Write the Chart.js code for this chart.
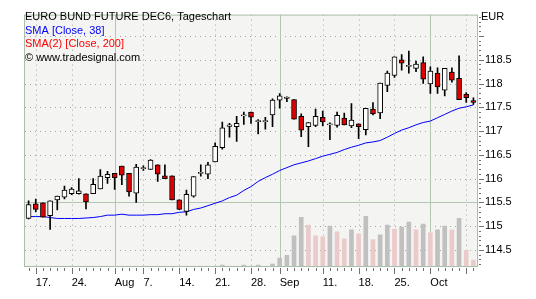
<!DOCTYPE html>
<html>
<head>
<meta charset="utf-8">
<script src="https://cdn.jsdelivr.net/npm/chart.js@4.4.0/dist/chart.umd.min.js"></script>
<style>
  html, body { margin: 0; padding: 0; background: #fff; }
</style>
</head>
<body>
<canvas id="myChart" width="536" height="299"></canvas>
<script>
// trading days, Jul 14 - Oct 10 2006
var days = ['14.07','17.07','18.07','19.07','20.07','21.07','24.07','25.07','26.07','27.07','28.07','31.07',
  '01.08','02.08','03.08','04.08','07.08','08.08','09.08','10.08','11.08','14.08','15.08','16.08','17.08','18.08',
  '21.08','22.08','23.08','24.08','25.08','28.08','29.08','30.08','31.08',
  '01.09','04.09','05.09','06.09','07.09','08.09','11.09','12.09','13.09','14.09','15.09',
  '18.09','19.09','20.09','21.09','22.09','25.09','26.09','27.09','28.09','29.09',
  '02.10','03.10','04.10','05.10','06.10','09.10','10.10'];

var open = [115.16,115.47,115.49,115.22,115.55,115.61,115.68,115.68,115.68,115.68,115.78,116.02,116.11,116.26,116.11,115.69,
  116.22,116.19,116.29,116.06,116.06,115.55,115.31,115.63,116.12,116.09,116.35,116.65,117.11,117.09,117.33,117.40,
  117.21,117.21,117.34,117.65,117.70,117.66,117.31,117.09,117.12,117.29,117.14,117.12,117.27,117.11,117.15,117.03,
  117.46,117.38,117.96,118.17,118.50,118.37,118.32,118.44,117.99,118.22,117.86,118.24,118.11,117.77,117.64];
var high = [115.53,115.57,115.49,115.53,115.63,115.84,115.81,116.00,115.68,116.00,116.19,116.15,116.11,116.26,116.11,116.30,
  116.27,116.40,116.29,116.29,116.06,115.55,115.76,116.04,116.29,116.34,116.75,117.19,117.16,117.31,117.40,117.40,
  117.24,117.29,117.68,117.79,117.72,117.66,117.36,117.18,117.46,117.42,117.17,117.40,117.38,117.58,117.15,117.48,
  117.60,118.01,118.26,118.56,118.61,118.68,118.47,118.56,118.35,118.33,118.32,118.33,118.58,117.81,117.70];
var low = [115.15,115.30,115.19,114.93,115.34,115.57,115.66,115.67,115.36,115.68,115.78,115.90,115.77,115.87,115.63,115.50,
  116.17,116.19,115.94,116.00,115.55,115.35,115.23,115.61,116.05,116.00,116.35,116.62,116.87,116.78,117.14,117.16,
  116.94,117.04,117.09,117.48,117.62,117.25,116.88,116.67,117.09,117.11,116.82,117.08,117.13,117.07,116.84,116.92,
  117.34,117.26,117.83,118.13,118.28,118.22,118.25,118.00,117.79,117.79,117.74,118.03,117.66,117.60,117.56];
var close = [115.45,115.35,115.19,115.53,115.63,115.76,115.78,115.74,115.51,115.88,116.05,116.09,116.02,116.07,115.72,116.24,
  116.22,116.39,116.09,116.00,115.55,115.35,115.67,116.04,116.12,116.29,116.68,117.07,117.12,117.16,117.33,117.29,
  117.21,117.21,117.65,117.74,117.70,117.25,117.02,117.18,117.31,117.19,117.14,117.33,117.13,117.23,117.09,117.48,
  117.36,118.01,118.22,118.56,118.43,118.37,118.41,118.09,118.26,117.93,118.32,118.07,117.66,117.70,117.60];

// SMA [Close, 38]
var sma38 = [115.20,115.20,115.20,115.18,115.16,115.16,115.16,115.16,115.17,115.18,115.20,115.23,115.23,115.25,115.23,115.23,
  115.23,115.24,115.24,115.26,115.26,115.29,115.30,115.35,115.38,115.43,115.48,115.53,115.60,115.65,115.75,115.83,
  115.94,116.02,116.09,116.17,116.23,116.29,116.33,116.37,116.42,116.47,116.51,116.55,116.61,116.66,116.70,116.75,
  116.77,116.80,116.87,116.95,117.02,117.07,117.13,117.18,117.21,117.28,117.35,117.42,117.48,117.51,117.55];

// volume, thousand contracts
var volume = [0,0,0,0,0,0,0,0,0,0,0,0,0,0,0,0,0,0,0,0,0,0,0,0,0,0,0,20,0,0,20,0,20,0,40,160,220,620,1000,840,620,600,820,700,
  560,740,660,1020,540,640,840,760,800,900,740,860,680,740,820,740,980,320,120];

var tickDays = ['17.07','24.07','01.08','07.08','14.08','21.08','28.08','01.09','11.09','18.09','25.09','02.10','09.10'];
var tickText = ['17.','24.','Aug','7.','14.','21.','28.','Sep','11.','18.','25.','Oct',''];
var monthDays = ['01.08','01.09','02.10'];
var yLines = [114.5,115,115.5,116,116.5,117,117.5,118,118.5,119];

var FONT = '11px "Liberation Sans", Arial, sans-serif';
Chart.defaults.font.family = '"Liberation Sans", Arial, sans-serif';
Chart.defaults.font.size = 11;
Chart.defaults.color = '#000';

var bodies = [], wicks = [], bodyColors = [], volColors = [];
for (var i = 0; i < days.length; i++) {
  var lo = Math.min(open[i], close[i]), hi = Math.max(open[i], close[i]);
  if (hi - lo < 0.02) { lo -= 0.012; hi += 0.012; }
  bodies.push([lo, hi]);
  wicks.push([low[i], high[i]]);
  bodyColors.push(close[i] >= open[i] ? '#ffffff' : '#e00000');
  volColors.push(i > 0 && volume[i] > volume[i - 1] ? '#c0c0c0' : '#ebcaca');
}

var frame = {
  id: 'frame',
  beforeDraw: function (chart) {
    var a = chart.chartArea, ctx = chart.ctx;
    ctx.save();
    ctx.fillStyle = '#f4f5f2';
    ctx.fillRect(a.left, a.top, a.right - a.left, a.bottom - a.top);
    ctx.restore();
  },
  beforeDatasetsDraw: function (chart) {
    var a = chart.chartArea, ctx = chart.ctx, xs = chart.scales.x, ys = chart.scales.y;
    ctx.save();
    ctx.lineWidth = 1;
    yLines.forEach(function (v) {
      var y = Math.round(ys.getPixelForValue(v)) + 0.5;
      if (v === 115.5) { ctx.setLineDash([]); ctx.strokeStyle = '#b2c6b2'; }
      else { ctx.setLineDash([1, 4]); ctx.strokeStyle = '#a0a8a0'; }
      ctx.beginPath(); ctx.moveTo(a.left, y); ctx.lineTo(a.right, y); ctx.stroke();
    });
    tickDays.forEach(function (d) {
      var x = Math.round(xs.getPixelForValue(days.indexOf(d))) + 0.5;
      if (monthDays.indexOf(d) >= 0) { ctx.setLineDash([]); ctx.strokeStyle = '#b2c6b2'; }
      else { ctx.setLineDash([1, 4]); ctx.strokeStyle = '#a0a8a0'; }
      ctx.beginPath(); ctx.moveTo(x, a.top); ctx.lineTo(x, a.bottom); ctx.stroke();
    });
    ctx.setLineDash([]);
    ctx.strokeStyle = '#a9bfa9';
    ctx.strokeRect(a.left - 0.5, a.top + 0.5, a.right - a.left + 1, a.bottom - a.top);
    ctx.restore();
  },
  afterDraw: function (chart) {
    var a = chart.chartArea, ctx = chart.ctx, xs = chart.scales.x, ys = chart.scales.y;
    ctx.save();
    ctx.strokeStyle = '#707070';
    ctx.lineWidth = 1;
    // x ticks
    for (var i = 0; i < days.length; i++) {
      var x = Math.round(xs.getPixelForValue(i)) + 0.5;
      var big = tickDays.indexOf(days[i]) >= 0;
      ctx.beginPath(); ctx.moveTo(x, a.bottom + 2); ctx.lineTo(x, a.bottom + (big ? 8 : 5)); ctx.stroke();
    }
    // y ticks
    for (var v = 1142; v <= 1194; v++) {
      var y = Math.round(ys.getPixelForValue(v / 10)) + 0.5;
      var major = v % 5 === 0;
      ctx.beginPath(); ctx.moveTo(a.right + 2, y); ctx.lineTo(a.right + (major ? 7 : 4), y); ctx.stroke();
    }
    ctx.font = FONT;
    ctx.textBaseline = 'middle';
    ctx.textAlign = 'left';
    ctx.fillStyle = '#000';
    ctx.fillText('EUR', a.right + 4, 17);
    ctx.fillText('EURO BUND FUTURE DEC6, Tageschart', a.left, 17);
    ctx.fillStyle = '#0000ff';
    ctx.fillText('SMA [Close, 38]', a.left, 30.5);
    ctx.fillStyle = '#ff0000';
    ctx.fillText('SMA(2) [Close, 200]', a.left, 44);
    ctx.fillStyle = '#000';
    ctx.fillText('\u00a9 www.tradesignal.com', a.left, 57.5);
    ctx.restore();
  }
};

var ctx = document.getElementById('myChart').getContext('2d');
var myChart = new Chart(ctx, {
  type: 'bar',
  data: {
    labels: days,
    datasets: [{
      label: 'body',
      data: bodies,
      backgroundColor: bodyColors,
      borderColor: '#000',
      borderWidth: 1,
      borderSkipped: false,
      barThickness: 5,
      grouped: false
    }, {
      label: 'wick',
      data: wicks,
      backgroundColor: '#000',
      borderWidth: 0,
      barThickness: 1,
      grouped: false
    }, {
      type: 'line',
      label: 'SMA [Close, 38]',
      data: sma38,
      borderColor: '#0000ff',
      borderWidth: 1,
      pointRadius: 0,
      tension: 0,
      fill: false
    }, {
      label: 'Volume',
      data: volume,
      yAxisID: 'yv',
      backgroundColor: volColors,
      borderWidth: 0,
      barThickness: 4,
      grouped: false
    }]
  },
  options: {
    responsive: false,
    animation: false,
    layout: { padding: { left: 25, top: 8, right: 0, bottom: 0 } },
    plugins: { legend: { display: false }, tooltip: { enabled: false } },
    scales: {
      x: {
        type: 'category',
        offset: true,
        grid: { display: false, drawTicks: false },
        border: { display: false },
        ticks: {
          autoSkip: false,
          maxRotation: 0,
          align: 'start',
          padding: 10,
          font: { size: 11 },
          callback: function (val, index) {
            var k = tickDays.indexOf(days[index]);
            return k >= 0 ? tickText[k] : '';
          }
        },
        afterFit: function (s) { s.height = 33; }
      },
      y: {
        position: 'right',
        min: 114.16,
        max: 119.45,
        grid: { display: false, drawTicks: false },
        border: { display: false },
        ticks: {
          stepSize: 0.5,
          includeBounds: false,
          padding: 8,
          font: { size: 11 },
          callback: function (v) { return v >= 119 ? '' : String(v); }
        },
        afterFit: function (s) { s.width = 59; }
      },
      yv: {
        display: false,
        position: 'left',
        min: 0,
        max: 5160
      }
    }
  },
  plugins: [frame]
});
</script>
</body>
</html>
